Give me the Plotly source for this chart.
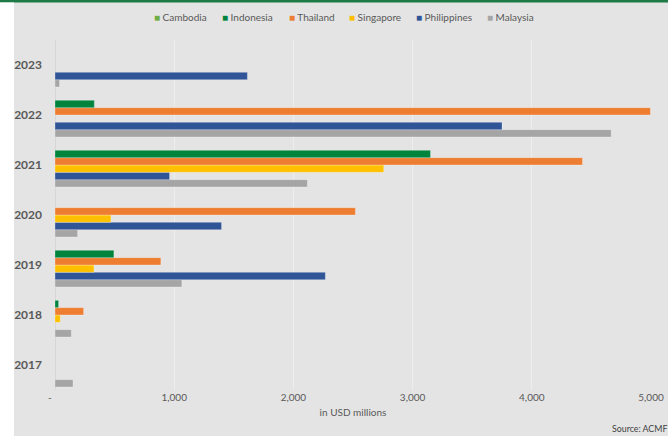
import plotly.graph_objects as go

years = ["2017", "2018", "2019", "2020", "2021", "2022", "2023"]
countries = ["Cambodia", "Indonesia", "Thailand", "Singapore", "Philippines", "Malaysia"]
cambodia = [None, None, None, None, None, None, None]
indonesia = [None, 30, 494, None, 3150, 330, None]
thailand = [None, 240, 888, 2520, 4425, 4995, None]
singapore = [None, 44, 327, 469, 2758, None, None]
philippines = [None, None, 2268, 1397, 961, 3750, 1614]
malaysia = [151, 137, 1064, 190, 2117, 4666, 38]
colors = ["#70AD47", "#00843D", "#ED7D31", "#FFC000", "#2F5597", "#A5A5A5"]
series = [cambodia, indonesia, thailand, singapore, philippines, malaysia]
tick_vals = [0, 1000, 2000, 3000, 4000, 5000]
tick_text = ["-" + "\u00a0" * 4, "1,000", "2,000", "3,000", "4,000", "5,000"]
legend_x_px = [152, 220, 287, 347, 414, 485]

L, R, T, B = 55, 17, 40, 46
W, H = 668, 436
pw, ph = W - L - R, H - T - B

fig = go.Figure()
for name, vals, col in reversed(list(zip(countries, series, colors))):
    fig.add_trace(go.Bar(
        y=years, x=vals, name=name, orientation="h", showlegend=False,
        marker=dict(color=col, line=dict(color="rgba(255,255,255,0.35)", width=0.8)),
    ))

font_family = "Lato, Liberation Sans, Arial, sans-serif"
annotations = []
for name, col, px in zip(countries, colors, legend_x_px):
    annotations.append(dict(
        text=f"<span style='color:{col}'>■</span> {name}", xref="paper", yref="paper",
        x=(px - L) / pw, xanchor="left", y=1 + (T - 17) / ph, yanchor="middle",
        showarrow=False, font=dict(size=10, color="#595959", family=font_family)))
annotations.append(dict(
    text="Source: ACMF", xref="paper", yref="paper", x=(610 - L) / pw, xanchor="left",
    y=-(428 - T - ph) / ph, yanchor="middle", showarrow=False,
    font=dict(size=8.8, color="#404040", family=font_family)))

fig.update_layout(
    width=W, height=H,
    margin=dict(l=L, r=R, t=T, b=B, autoexpand=False),
    paper_bgcolor="#E4E4E4", plot_bgcolor="#E4E4E4",
    barmode="group", bargap=0.12, bargroupgap=0,
    font=dict(family=font_family, color="#595959", size=10),
    showlegend=False,
    xaxis=dict(range=[0, 5000], tickvals=tick_vals, ticktext=tick_text,
               showgrid=True, gridcolor="#EEEEEE", gridwidth=1,
               zeroline=True, zerolinecolor="#D6D6D6", zerolinewidth=1,
               showline=False, ticks="", tickfont=dict(size=10, color="#595959"),
               title=dict(text="in USD millions", font=dict(size=10, color="#595959"), standoff=6)),
    yaxis=dict(categoryorder="array", categoryarray=years, showgrid=False, zeroline=False,
               ticks="", ticklabelstandoff=12,
               tickfont=dict(size=12, color="#595959", family=font_family, weight="bold")),
    shapes=[
        dict(type="rect", xref="paper", yref="paper", x0=-L / pw - 0.01, x1=1 + R / pw + 0.01,
             y0=1 + (T - 2.5) / ph, y1=1 + T / ph + 0.01, fillcolor="#1E7B45", line=dict(width=0), layer="above"),
        dict(type="rect", xref="paper", yref="paper", x0=-L / pw - 0.01, x1=-(L - 14) / pw,
             y0=-B / ph - 0.01, y1=1 + (T - 2.5) / ph, fillcolor="#FFFFFF", line=dict(width=0), layer="above"),
    ],
    annotations=annotations,
)
fig.write_html("out.html")
